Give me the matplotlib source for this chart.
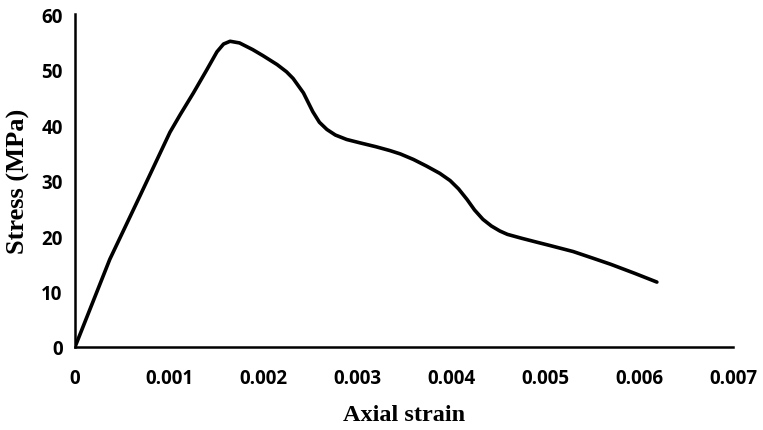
import matplotlib
matplotlib.use('Agg')
import matplotlib.pyplot as plt

# Dados (deformacao axial x tensao)
strain = [0, 0.00037, 0.00069, 0.00101, 0.00112, 0.00126, 0.00140, 0.00151,
          0.00158, 0.00165, 0.00175, 0.00189, 0.0020, 0.00215, 0.00225,
          0.00232, 0.00243, 0.00253, 0.00260, 0.00268, 0.00277, 0.00289,
          0.00303, 0.00320, 0.00335, 0.00346, 0.00360, 0.00374, 0.00388,
          0.00399, 0.00408, 0.00417, 0.00425, 0.00434, 0.00443, 0.00452,
          0.0046, 0.00475, 0.00491, 0.00505, 0.00530, 0.00551, 0.00570,
          0.00595, 0.00619]
stress = [0, 15.8, 27.2, 38.7, 41.9, 45.8, 49.9, 53.2,
          54.6, 55.1, 54.8, 53.6, 52.5, 50.9, 49.6,
          48.4, 45.8, 42.4, 40.5, 39.2, 38.2, 37.4,
          36.8, 36.1, 35.4, 34.8, 33.8, 32.6, 31.3,
          30.0, 28.5, 26.6, 24.7, 23.0, 21.8, 20.9,
          20.3, 19.6, 18.9, 18.3, 17.2, 16.0, 14.9,
          13.3, 11.7]

x_ticks = [0, 0.001, 0.002, 0.003, 0.004, 0.005, 0.006, 0.007]
x_tick_labels = ['0', '0.001', '0.002', '0.003', '0.004', '0.005', '0.006', '0.007']
y_ticks = [0, 10, 20, 30, 40, 50, 60]

fig = plt.figure(figsize=(7.63, 4.31), dpi=100)
ax = fig.add_axes([0.0983, 0.1926, 0.8624, 0.7724])

ax.plot(strain, stress, color='black', linewidth=2.6, solid_capstyle='round',
        solid_joinstyle='round')

ax.set_xlim(0, 0.007)
ax.set_ylim(0, 60)
ax.set_xticks(x_ticks)
ax.set_xticklabels(x_tick_labels)
ax.set_yticks(y_ticks)

# Estilo das marcas dos eixos (sem tracos)
ax.tick_params(length=0)
ax.tick_params(axis='x', pad=15)
ax.tick_params(axis='y', pad=9)
for lbl in ax.get_xticklabels() + ax.get_yticklabels():
    lbl.set_fontfamily('Open Sans')
    lbl.set_fontweight('bold')
    lbl.set_fontsize(13.5)

ax.spines['top'].set_visible(False)
ax.spines['right'].set_visible(False)
ax.spines['left'].set_linewidth(1.8)
ax.spines['bottom'].set_linewidth(1.8)

ax.set_xlabel('Axial strain', fontfamily='Liberation Serif', fontweight='bold',
              fontsize=17.5, labelpad=12)
ax.set_ylabel('Stress (MPa)', fontfamily='Liberation Serif', fontweight='bold',
              fontsize=19, labelpad=8)

fig.savefig('out.png', dpi=100)
